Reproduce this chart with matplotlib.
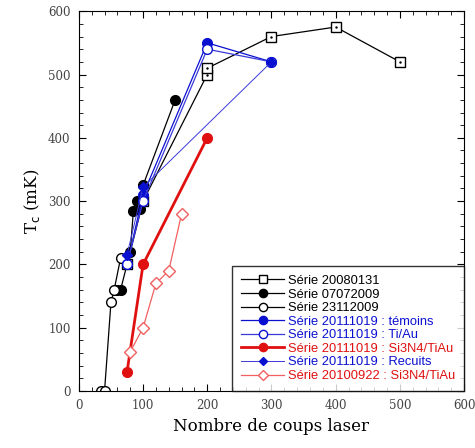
import matplotlib
matplotlib.use("Agg")
import matplotlib.pyplot as plt
from matplotlib.ticker import MultipleLocator

# data
x_080131 = [75, 100, 200, 200, 300, 400, 500]
y_080131 = [200, 300, 500, 510, 560, 575, 520]

x_072009 = [60, 65, 80, 85, 90, 95, 100, 150]
y_072009 = [160, 160, 220, 285, 300, 288, 325, 460]

x_231109 = [35, 40, 50, 55, 65]
y_231109 = [0, 0, 140, 160, 210]

x_temoins = [75, 100, 200, 300]
y_temoins = [200, 310, 550, 520]

x_tiau = [75, 100, 200, 300]
y_tiau = [200, 300, 540, 520]

x_si3n4 = [75, 100, 200]
y_si3n4 = [30, 200, 400]

x_recuits = [75, 100, 300]
y_recuits = [215, 322, 520]

x_100922 = [80, 100, 120, 140, 160]
y_100922 = [62, 100, 170, 190, 280]

blue = '#0a10d0'
blue_l = '#3a3ad8'
red = '#e01010'
red_l = '#f06060'

fig = plt.figure(figsize=(4.75, 4.48), dpi=100)
ax = fig.add_axes([0.166, 0.127, 0.811, 0.848])

ax.plot(x_080131, y_080131, color='black', lw=0.9, marker='s', ms=6.5, mfc='white',
        mec='black', mew=1.0, label='Série 20080131')
ax.plot(x_080131, y_080131, ls='none', marker='.', ms=1.5, color='black')
ax.plot(x_072009, y_072009, color='black', lw=0.9, marker='o', ms=7, mfc='black',
        mec='black', label='Série 07072009')
ax.plot(x_231109, y_231109, color='black', lw=0.9, marker='o', ms=7, mfc='white',
        mec='black', mew=1.0, label='Série 23112009')
ax.plot(x_temoins, y_temoins, color=blue, lw=0.9, marker='o', ms=7, mfc=blue,
        mec=blue, label='Série 20111019 : témoins')
ax.plot(x_tiau, y_tiau, color=blue_l, lw=0.9, marker='o', ms=7, mfc='white',
        mec=blue, mew=1.0, label='Série 20111019 : Ti/Au')
ax.plot(x_si3n4, y_si3n4, color=red, lw=2.0, marker='o', ms=7, mfc=red,
        mec=red, label='Série 20111019 : Si3N4/TiAu')
ax.plot(x_recuits, y_recuits, color=blue_l, lw=0.7, marker='D', ms=5, mfc=blue,
        mec=blue, label='Série 20111019 : Recuits')
ax.plot(x_100922, y_100922, color=red_l, lw=0.9, marker='D', ms=6, mfc='white',
        mec=red_l, mew=1.0, label='Série 20100922 : Si3N4/TiAu')

ax.set_xlim(0, 600)
ax.set_ylim(0, 600)
ax.xaxis.set_major_locator(MultipleLocator(100))
ax.yaxis.set_major_locator(MultipleLocator(100))
ax.xaxis.set_minor_locator(MultipleLocator(20))
ax.yaxis.set_minor_locator(MultipleLocator(20))
ax.tick_params(which='both', direction='in', top=True, right=True,
               labelsize=8.5, labelcolor='#444444', labelfontfamily='DejaVu Serif')
ax.tick_params(which='major', length=5, pad=6)
ax.tick_params(which='minor', length=3)

ax.set_xlabel('Nombre de coups laser', family='DejaVu Serif', fontsize=12)
ax.set_ylabel(r'T$_{\rm c}$ (mK)', family='DejaVu Serif', fontsize=12)

txt_colors = ['black', 'black', 'black', blue, blue, red, blue, red]
leg = ax.legend(loc='lower right', frameon=True, fancybox=False,
                edgecolor='black', handlelength=3.3, borderaxespad=0,
                labelspacing=0.12, borderpad=0.7, handletextpad=0.3, markerscale=0.85,
                prop={'family': 'Liberation Sans', 'size': 9.3})
leg.get_frame().set_linewidth(1.0)
for t, c in zip(leg.get_texts(), txt_colors):
    t.set_color(c)

fig.savefig('out.png', dpi=100)
